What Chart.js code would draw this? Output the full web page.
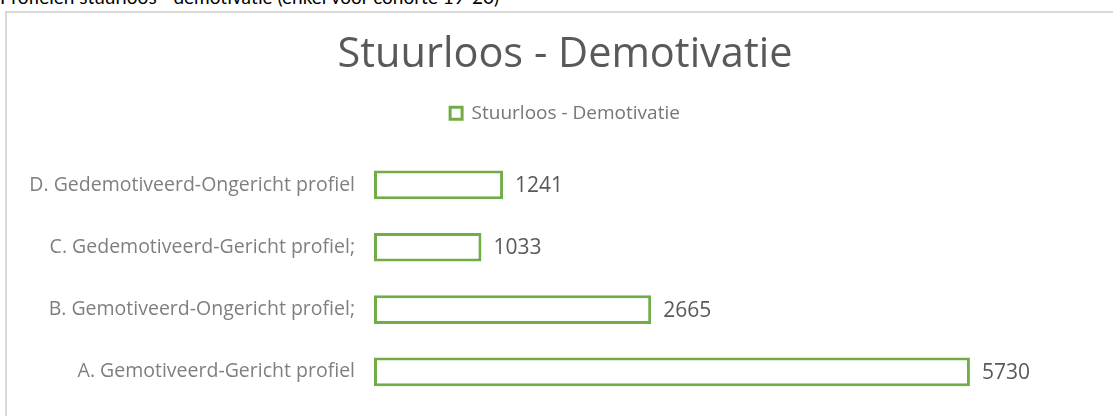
<!DOCTYPE html>
<html>
<head>
<meta charset="utf-8">
<script src="https://cdn.jsdelivr.net/npm/chart.js@4"></script>
<style>
  html, body { margin: 0; padding: 0; background: #fff; overflow: hidden; }
  body { width: 1113px; height: 416px; position: relative; font-family: Lato, sans-serif; }
  #caption { position: absolute; left: 0; top: -15px; font-size: 19px; color: #000; white-space: nowrap; }
  #frame { position: absolute; left: 5px; top: 11px; width: 1108px; height: 405px;
           border-left: 2px solid #d9d9d9; border-top: 2px solid #d9d9d9; box-sizing: border-box; }
  #chart { display: block; }
</style>
</head>
<body>
<div id="caption">Profielen stuurloos - demotivatie (enkel voor cohorte 19-20)</div>
<div id="frame"><canvas id="chart" width="1106" height="403"></canvas></div>
<script>
// profielen, van boven naar onder zoals in de grafiek
const categories = [
  'D. Gedemotiveerd-Ongericht profiel',
  'C. Gedemotiveerd-Gericht profiel;',
  'B. Gemotiveerd-Ongericht profiel;',
  'A. Gemotiveerd-Gericht profiel'
];
const seriesName = 'Stuurloos - Demotivatie';
const values = [1241, 1033, 2665, 5730];
const axisMax = 7000;

const GREEN = '#70ad47';
const FONT = "'Open Sans'";

// waarde rechts naast elke balk
const barLabels = {
  id: 'barLabels',
  beforeInit(chart) {
    // extra ruimte onder de legende
    const fit = chart.legend.fit;
    chart.legend.fit = function () { fit.call(this); this.height += 21; };
  },
  afterDatasetsDraw(chart) {
    const ctx = chart.ctx;
    const meta = chart.getDatasetMeta(0);
    ctx.save();
    ctx.font = '21px ' + FONT;
    ctx.fillStyle = '#595959';
    ctx.textBaseline = 'middle';
    ctx.textAlign = 'left';
    meta.data.forEach((bar, i) => {
      ctx.fillText(String(values[i]), bar.x + 12, bar.y + 1);
    });
    ctx.restore();
  }
};

new Chart(document.getElementById('chart'), {
  type: 'bar',
  data: {
    labels: categories,
    datasets: [{
      label: seriesName,
      data: values,
      backgroundColor: '#ffffff',
      borderColor: GREEN,
      borderWidth: 3,
      borderSkipped: false,
      categoryPercentage: 1,
      barPercentage: 0.46
    }]
  },
  options: {
    indexAxis: 'y',
    responsive: false,
    maintainAspectRatio: false,
    animation: false,
    layout: { padding: { left: 21, right: 11, top: 0, bottom: 13 } },
    plugins: {
      title: {
        display: true,
        text: 'Stuurloos - Demotivatie',
        color: '#595959',
        font: { family: FONT, size: 41.5, weight: 'normal' },
        padding: { top: 17, bottom: 19 }
      },
      legend: {
        display: true,
        position: 'top',
        align: 'center',
        labels: {
          color: '#767676',
          font: { family: FONT, size: 19 },
          boxWidth: 12,
          boxHeight: 12,
          padding: 5
        }
      },
      tooltip: { enabled: false }
    },
    scales: {
      x: {
        display: false,
        min: 0,
        max: axisMax
      },
      y: {
        grid: { display: false, drawTicks: false },
        border: { display: false },
        ticks: {
          color: '#7f7f7f',
          font: { family: FONT, size: 19.5 },
          padding: 19
        },
        afterFit(axis) {
          axis.width = 346;
          // geen extra ruimte boven/onder voor de labels
          axis.paddingTop = 0;
          axis.paddingBottom = 0;
        }
      }
    }
  },
  plugins: [barLabels]
});
</script>
</body>
</html>
